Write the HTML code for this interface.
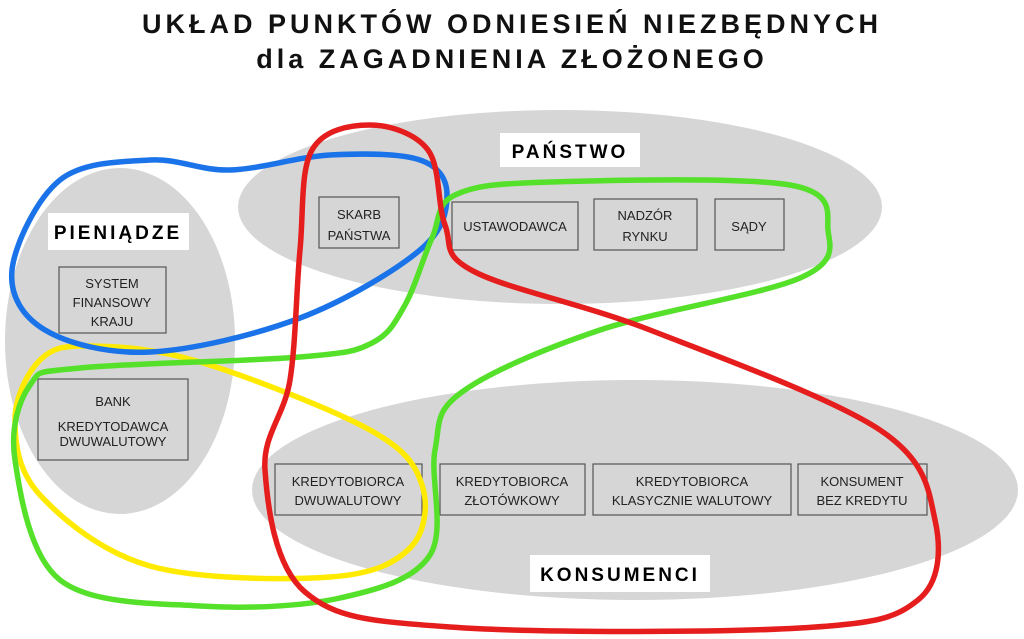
<!DOCTYPE html>
<html><head><meta charset="utf-8"><style>
html,body{margin:0;padding:0;background:#fff;}
svg{display:block;}
text{font-family:"Liberation Sans",sans-serif;}
</style></head><body>
<svg id="s" width="1024" height="639" viewBox="0 0 1024 639" xmlns="http://www.w3.org/2000/svg">
<text x="512" y="33" text-anchor="middle" font-size="27" font-weight="bold" letter-spacing="4" fill="#111">UKŁAD PUNKTÓW ODNIESIEŃ NIEZBĘDNYCH</text>
<text x="512" y="68" text-anchor="middle" font-size="27" font-weight="bold" letter-spacing="4" fill="#111">dla ZAGADNIENIA ZŁOŻONEGO</text>
<ellipse cx="560" cy="207" rx="322" ry="97" fill="#d6d6d6"/>
<ellipse cx="120" cy="341" rx="115" ry="173" fill="#d6d6d6"/>
<ellipse cx="635" cy="490" rx="383" ry="110" fill="#d6d6d6"/>
<rect x="500" y="133" width="140" height="34" fill="#fff"/>
<text x="570" y="158" text-anchor="middle" font-size="19" font-weight="bold" letter-spacing="3">PAŃSTWO</text>
<rect x="48" y="213" width="141" height="37" fill="#fff"/>
<text x="118" y="239" text-anchor="middle" font-size="19" font-weight="bold" letter-spacing="3">PIENIĄDZE</text>
<rect x="530" y="555" width="180" height="37" fill="#fff"/>
<text x="620" y="581" text-anchor="middle" font-size="19" font-weight="bold" letter-spacing="3">KONSUMENCI</text>
<g fill="none" stroke="#555" stroke-width="1.2">
<rect x="319" y="197" width="80" height="51"/>
<rect x="452" y="202" width="126" height="48"/>
<rect x="594" y="199" width="103" height="51"/>
<rect x="715" y="199" width="69" height="51"/>
<rect x="59" y="267" width="107" height="66"/>
<rect x="38" y="379" width="150" height="81"/>
<rect x="275" y="464" width="147" height="51"/>
<rect x="440" y="464" width="145" height="51"/>
<rect x="593" y="464" width="198" height="51"/>
<rect x="798" y="464" width="129" height="51"/>
</g>
<g font-size="13" fill="#222" text-anchor="middle">
<text x="359" y="219">SKARB</text><text x="359" y="240">PAŃSTWA</text>
<text x="515" y="231">USTAWODAWCA</text>
<text x="645" y="220">NADZÓR</text><text x="645" y="241">RYNKU</text>
<text x="749" y="231">SĄDY</text>
<text x="112" y="288">SYSTEM</text><text x="112" y="307">FINANSOWY</text><text x="112" y="326">KRAJU</text>
<text x="113" y="406">BANK</text><text x="113" y="431">KREDYTODAWCA</text><text x="113" y="446">DWUWALUTOWY</text>
<text x="348" y="486">KREDYTOBIORCA</text><text x="348" y="505">DWUWALUTOWY</text>
<text x="512" y="486">KREDYTOBIORCA</text><text x="512" y="505">ZŁOTÓWKOWY</text>
<text x="692" y="486">KREDYTOBIORCA</text><text x="692" y="505">KLASYCZNIE WALUTOWY</text>
<text x="862" y="486">KONSUMENT</text><text x="862" y="505">BEZ KREDYTU</text>
</g>
<g id="curves" fill="none" stroke-width="5.5" stroke-linejoin="round"></g>
</svg>
<script>
function cr(p){var n=p.length,d="M"+p[0][0]+","+p[0][1];
for(var i=0;i<n;i++){var a=p[(i-1+n)%n],b=p[i],c=p[(i+1)%n],e=p[(i+2)%n];
d+=" C"+(b[0]+(c[0]-a[0])/6)+","+(b[1]+(c[1]-a[1])/6)+" "+(c[0]-(e[0]-b[0])/6)+","+(c[1]-(e[1]-b[1])/6)+" "+c[0]+","+c[1];}
return d+"Z";}
var C=[
["#ffea00",[[15,420],[40,360],[90,346],[200,362],[370,430],[422,485],[410,548],[330,577],[150,566],[40,495]]],
["#1a73e8",[[12,270],[60,180],[150,160],[230,170],[330,155],[420,160],[447,195],[420,250],[300,318],[150,352],[45,330]]],
["#55e02a",[[455,195],[550,182],[790,185],[828,230],[800,278],[600,330],[462,392],[435,450],[430,555],[340,598],[200,606],[60,580],[15,460],[30,385],[80,368],[300,357],[372,343],[405,305],[432,238]]],
["#e51d1d",[[312,150],[370,125],[428,150],[445,225],[475,272],[650,330],[880,430],[935,520],[918,600],[800,628],[450,627],[305,592],[265,470],[290,380],[300,250]]]
];
var g=document.getElementById("curves");
C.forEach(function(c){var p=document.createElementNS("http://www.w3.org/2000/svg","path");p.setAttribute("d",cr(c[1]));p.setAttribute("stroke",c[0]);g.appendChild(p);});
</script>
</body></html>
